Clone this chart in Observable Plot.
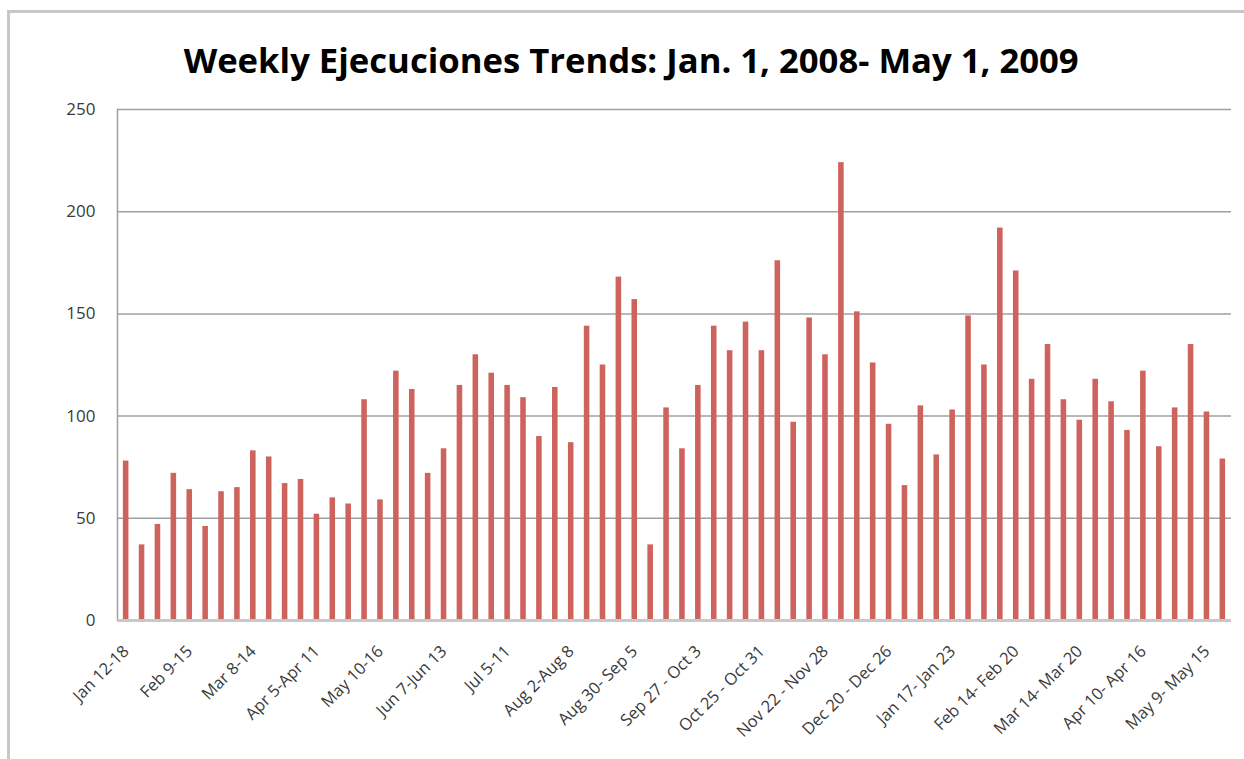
<!DOCTYPE html>
<html>
<head>
<meta charset="utf-8">
<script src="https://cdn.jsdelivr.net/npm/d3@7"></script>
<script src="https://cdn.jsdelivr.net/npm/@observablehq/plot@0.6"></script>
<style>
  html, body { margin: 0; padding: 0; background: #fff; width: 1244px; height: 759px; overflow: hidden; }
  #frame { position: absolute; left: 7px; top: 10px; right: 0; bottom: 0;
           border-top: 3px solid #c8c8c8; border-left: 3px solid #c8c8c8; box-sizing: border-box; }
  #title { position: absolute; left: 0; top: 38px; width: 1262px; text-align: center;
           font-family: "Open Sans", sans-serif; font-weight: 700; font-size: 34px; color: #000;
           white-space: nowrap; line-height: 44px; }
  #title span { display: inline-block; transform-origin: center; }
  #chart { position: absolute; left: 0; top: 90px; }
</style>
</head>
<body>
<div id="frame"></div>
<div id="title"><span>Weekly Ejecuciones Trends: Jan. 1, 2008- May 1, 2009</span></div>
<div id="chart"></div>
<script>
// Weekly counts (one bar per week)
const counts = [78,37,47,72,64,46,63,65,83,80,
                67,69,52,60,57,108,59,122,113,72,
                84,115,130,121,115,109,90,114,87,144,
                125,168,157,37,104,84,115,144,132,146,
                132,176,97,148,130,224,151,126,96,66,
                105,81,103,149,125,192,171,118,135,108,
                98,118,107,93,122,85,104,135,102,79];
// Labels shown every fourth week
const tickLabels = ["Jan 12-18","Feb 9-15","Mar 8-14","Apr 5-Apr 11","May 10-16","Jun 7-Jun 13",
                    "Jul 5-11","Aug 2-Aug 8","Aug 30- Sep 5","Sep 27 - Oct 3","Oct 25 - Oct 31",
                    "Nov 22 - Nov 28","Dec 20 - Dec 26","Jan 17- Jan 23","Feb 14- Feb 20",
                    "Mar 14- Mar 20","Apr 10- Apr 16","May 9- May 15"];
const labelEvery = 4;
const yTicks = [0, 50, 100, 150, 200, 250];

const weekIndex = counts.map((_, i) => i);
const data = counts.map((v, i) => ({week: i, value: v}));
const labelWeeks = tickLabels.map((_, k) => k * labelEvery);

const chart = Plot.plot({
  width: 1244,
  height: 669,
  marginLeft: 117,
  marginRight: 13,
  marginTop: 19,
  marginBottom: 139,
  style: {fontFamily: "'Open Sans', sans-serif", fontSize: "16px", color: "#3a3a3a", background: "transparent"},
  x: {type: "band", domain: weekIndex, paddingInner: 0.65, paddingOuter: 0.37, align: 0.5},
  y: {domain: [0, 250]},
  marks: [
    Plot.gridY(yTicks.filter(d => d > 0), {stroke: "#a0a0a0", strokeOpacity: 1, strokeWidth: 1.5}),
    Plot.frame({anchor: "left", stroke: "#a0a0a0", strokeWidth: 1.5}),
    Plot.barY(data, {x: "week", y: "value", fill: "#ce635e"}),
    Plot.ruleY([0], {stroke: "#c8c8c8", strokeWidth: 3}),
    Plot.axisY({ticks: yTicks, tickSize: 0, tickPadding: 22, label: null, fontSize: 17}),
    Plot.axisX({ticks: labelWeeks, tickFormat: d => tickLabels[d / labelEvery], tickSize: 0,
                tickPadding: 28, tickRotate: -45, label: null, fontSize: 16.5, dx: 0})
  ]
});
document.getElementById("chart").appendChild(chart);

// fit title to the reference width
const span = document.querySelector("#title span");
const w = span.getBoundingClientRect().width;
span.style.transform = `scaleX(${895 / w})`;
</script>
</body>
</html>
